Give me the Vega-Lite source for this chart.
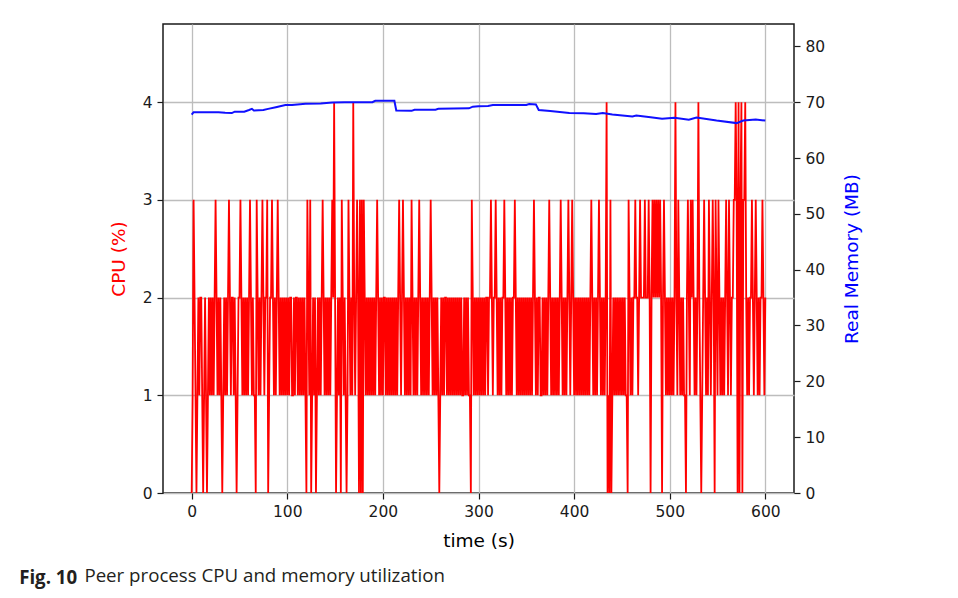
{
"$schema": "https://vega.github.io/schema/vega-lite/v6.json",
"autosize": {"type": "pad"},
"padding": {"left": 18, "top": 23, "right": 5, "bottom": 5},
"background": "white",
"config": {
  "view": {"stroke": "#1a1a1a", "strokeWidth": 1.5},
  "axis": {"domain": false, "tickColor": "#1a1a1a", "tickSize": 6, "tickWidth": 1.2, "labelPadding": 5, "labelFont": "DejaVu Sans", "labelFontSize": 15.5, "labelColor": "#1a1a1a", "titleFont": "DejaVu Sans", "titleFontSize": 18.5, "titleFontWeight": "normal", "gridColor": "#bdbdbd", "gridWidth": 1.3}
},
"title": {"text": "Peer process CPU and memory utilization", "orient": "bottom", "anchor": "start", "frame": "bounds", "font": "Open Sans", "fontSize": 18.7, "fontWeight": "normal", "color": "#231f20", "offset": -21, "dx": 66},
"datasets": {
"cpu": [
{"t":0,"c":0},{"t":1,"c":1},{"t":2,"c":3},{"t":3,"c":2},{"t":4,"c":1},{"t":5,"c":0},{"t":6,"c":1},{"t":7,"c":2},{"t":8,"c":1},{"t":9,"c":2},
{"t":10,"c":2},{"t":11,"c":1},{"t":12,"c":0},{"t":13,"c":1},{"t":14,"c":2},{"t":15,"c":1},{"t":16,"c":0},{"t":17,"c":1},{"t":18,"c":2},{"t":19,"c":1},
{"t":20,"c":2},{"t":21,"c":1},{"t":22,"c":2},{"t":23,"c":1},{"t":24,"c":2},{"t":25,"c":3},{"t":26,"c":2},{"t":27,"c":1},{"t":28,"c":2},{"t":29,"c":1},
{"t":30,"c":2},{"t":31,"c":1},{"t":32,"c":0},{"t":33,"c":1},{"t":34,"c":2},{"t":35,"c":1},{"t":36,"c":2},{"t":37,"c":1},{"t":38,"c":2},{"t":39,"c":3},
{"t":40,"c":2},{"t":41,"c":1},{"t":42,"c":2},{"t":43,"c":2},{"t":44,"c":1},{"t":45,"c":2},{"t":46,"c":1},{"t":47,"c":0},{"t":48,"c":1},{"t":49,"c":2},
{"t":50,"c":2},{"t":51,"c":3},{"t":52,"c":2},{"t":53,"c":1},{"t":54,"c":2},{"t":55,"c":1},{"t":56,"c":2},{"t":57,"c":1},{"t":58,"c":2},{"t":59,"c":1},
{"t":60,"c":2},{"t":61,"c":3},{"t":62,"c":2},{"t":63,"c":1},{"t":64,"c":2},{"t":65,"c":1},{"t":66,"c":1},{"t":67,"c":0},{"t":68,"c":3},{"t":69,"c":2},
{"t":70,"c":1},{"t":71,"c":2},{"t":72,"c":1},{"t":73,"c":2},{"t":74,"c":3},{"t":75,"c":2},{"t":76,"c":1},{"t":77,"c":2},{"t":78,"c":2},{"t":79,"c":3},
{"t":80,"c":0},{"t":81,"c":1},{"t":82,"c":2},{"t":83,"c":2},{"t":84,"c":3},{"t":85,"c":2},{"t":86,"c":1},{"t":87,"c":2},{"t":88,"c":1},{"t":89,"c":2},
{"t":90,"c":3},{"t":91,"c":2},{"t":92,"c":1},{"t":93,"c":2},{"t":94,"c":1},{"t":95,"c":2},{"t":96,"c":1},{"t":97,"c":2},{"t":98,"c":1},{"t":99,"c":2},
{"t":100,"c":1},{"t":101,"c":2},{"t":102,"c":1},{"t":103,"c":2},{"t":104,"c":2},{"t":105,"c":1},{"t":106,"c":1},{"t":107,"c":2},{"t":108,"c":1},{"t":109,"c":2},
{"t":110,"c":2},{"t":111,"c":1},{"t":112,"c":2},{"t":113,"c":1},{"t":114,"c":2},{"t":115,"c":1},{"t":116,"c":2},{"t":117,"c":1},{"t":118,"c":2},{"t":119,"c":1},
{"t":120,"c":0},{"t":121,"c":3},{"t":122,"c":2},{"t":123,"c":1},{"t":124,"c":3},{"t":125,"c":0},{"t":126,"c":1},{"t":127,"c":2},{"t":128,"c":1},{"t":129,"c":2},
{"t":130,"c":0},{"t":131,"c":1},{"t":132,"c":2},{"t":133,"c":1},{"t":134,"c":2},{"t":135,"c":1},{"t":136,"c":2},{"t":137,"c":3},{"t":138,"c":2},{"t":139,"c":1},
{"t":140,"c":2},{"t":141,"c":1},{"t":142,"c":2},{"t":143,"c":1},{"t":144,"c":2},{"t":145,"c":1},{"t":146,"c":2},{"t":147,"c":3},{"t":148,"c":2},{"t":149,"c":4},
{"t":150,"c":2},{"t":151,"c":0},{"t":152,"c":1},{"t":153,"c":2},{"t":154,"c":1},{"t":155,"c":2},{"t":156,"c":0},{"t":157,"c":3},{"t":158,"c":2},{"t":159,"c":1},
{"t":160,"c":2},{"t":161,"c":1},{"t":162,"c":0},{"t":163,"c":1},{"t":164,"c":3},{"t":165,"c":2},{"t":166,"c":1},{"t":167,"c":2},{"t":168,"c":1},{"t":169,"c":4},
{"t":170,"c":2},{"t":171,"c":1},{"t":172,"c":2},{"t":173,"c":3},{"t":174,"c":2},{"t":175,"c":0},{"t":176,"c":3},{"t":177,"c":0},{"t":178,"c":3},{"t":179,"c":0},
{"t":180,"c":3},{"t":181,"c":2},{"t":182,"c":1},{"t":183,"c":2},{"t":184,"c":1},{"t":185,"c":2},{"t":186,"c":1},{"t":187,"c":2},{"t":188,"c":1},{"t":189,"c":2},
{"t":190,"c":1},{"t":191,"c":2},{"t":192,"c":1},{"t":193,"c":2},{"t":194,"c":3},{"t":195,"c":2},{"t":196,"c":1},{"t":197,"c":2},{"t":198,"c":1},{"t":199,"c":2},
{"t":200,"c":1},{"t":201,"c":2},{"t":202,"c":2},{"t":203,"c":1},{"t":204,"c":2},{"t":205,"c":1},{"t":206,"c":2},{"t":207,"c":1},{"t":208,"c":2},{"t":209,"c":1},
{"t":210,"c":2},{"t":211,"c":1},{"t":212,"c":2},{"t":213,"c":1},{"t":214,"c":2},{"t":215,"c":1},{"t":216,"c":2},{"t":217,"c":3},{"t":218,"c":2},{"t":219,"c":1},
{"t":220,"c":2},{"t":221,"c":3},{"t":222,"c":2},{"t":223,"c":1},{"t":224,"c":2},{"t":225,"c":1},{"t":226,"c":2},{"t":227,"c":1},{"t":228,"c":2},{"t":229,"c":1},
{"t":230,"c":3},{"t":231,"c":2},{"t":232,"c":1},{"t":233,"c":2},{"t":234,"c":1},{"t":235,"c":2},{"t":236,"c":1},{"t":237,"c":2},{"t":238,"c":3},{"t":239,"c":2},
{"t":240,"c":1},{"t":241,"c":2},{"t":242,"c":1},{"t":243,"c":2},{"t":244,"c":1},{"t":245,"c":2},{"t":246,"c":1},{"t":247,"c":2},{"t":248,"c":1},{"t":249,"c":2},
{"t":250,"c":3},{"t":251,"c":2},{"t":252,"c":1},{"t":253,"c":2},{"t":254,"c":1},{"t":255,"c":2},{"t":256,"c":1},{"t":257,"c":2},{"t":258,"c":1},{"t":259,"c":0},
{"t":260,"c":1},{"t":261,"c":2},{"t":262,"c":1},{"t":263,"c":2},{"t":264,"c":1},{"t":265,"c":2},{"t":266,"c":2},{"t":267,"c":1},{"t":268,"c":2},{"t":269,"c":1},
{"t":270,"c":2},{"t":271,"c":1},{"t":272,"c":2},{"t":273,"c":1},{"t":274,"c":2},{"t":275,"c":1},{"t":276,"c":2},{"t":277,"c":1},{"t":278,"c":2},{"t":279,"c":1},
{"t":280,"c":2},{"t":281,"c":1},{"t":282,"c":2},{"t":283,"c":1},{"t":284,"c":1},{"t":285,"c":2},{"t":286,"c":1},{"t":287,"c":2},{"t":288,"c":1},{"t":289,"c":2},
{"t":290,"c":1},{"t":291,"c":1},{"t":292,"c":0},{"t":293,"c":3},{"t":294,"c":2},{"t":295,"c":1},{"t":296,"c":2},{"t":297,"c":1},{"t":298,"c":2},{"t":299,"c":1},
{"t":300,"c":2},{"t":301,"c":1},{"t":302,"c":2},{"t":303,"c":1},{"t":304,"c":2},{"t":305,"c":1},{"t":306,"c":2},{"t":307,"c":1},{"t":308,"c":2},{"t":309,"c":2},
{"t":310,"c":1},{"t":311,"c":2},{"t":312,"c":2},{"t":313,"c":3},{"t":314,"c":2},{"t":315,"c":1},{"t":316,"c":2},{"t":317,"c":2},{"t":318,"c":3},{"t":319,"c":2},
{"t":320,"c":1},{"t":321,"c":2},{"t":322,"c":1},{"t":323,"c":2},{"t":324,"c":1},{"t":325,"c":2},{"t":326,"c":2},{"t":327,"c":3},{"t":328,"c":2},{"t":329,"c":1},
{"t":330,"c":2},{"t":331,"c":1},{"t":332,"c":2},{"t":333,"c":1},{"t":334,"c":2},{"t":335,"c":1},{"t":336,"c":2},{"t":337,"c":2},{"t":338,"c":3},{"t":339,"c":2},
{"t":340,"c":1},{"t":341,"c":2},{"t":342,"c":1},{"t":343,"c":2},{"t":344,"c":1},{"t":345,"c":2},{"t":346,"c":1},{"t":347,"c":2},{"t":348,"c":1},{"t":349,"c":2},
{"t":350,"c":1},{"t":351,"c":2},{"t":352,"c":1},{"t":353,"c":2},{"t":354,"c":1},{"t":355,"c":2},{"t":356,"c":1},{"t":357,"c":2},{"t":358,"c":3},{"t":359,"c":2},
{"t":360,"c":1},{"t":361,"c":2},{"t":362,"c":1},{"t":363,"c":2},{"t":364,"c":2},{"t":365,"c":1},{"t":366,"c":1},{"t":367,"c":2},{"t":368,"c":1},{"t":369,"c":2},
{"t":370,"c":1},{"t":371,"c":2},{"t":372,"c":1},{"t":373,"c":2},{"t":374,"c":3},{"t":375,"c":2},{"t":376,"c":1},{"t":377,"c":2},{"t":378,"c":1},{"t":379,"c":2},
{"t":380,"c":1},{"t":381,"c":2},{"t":382,"c":1},{"t":383,"c":2},{"t":384,"c":1},{"t":385,"c":2},{"t":386,"c":3},{"t":387,"c":2},{"t":388,"c":1},{"t":389,"c":2},
{"t":390,"c":1},{"t":391,"c":2},{"t":392,"c":1},{"t":393,"c":2},{"t":394,"c":3},{"t":395,"c":2},{"t":396,"c":1},{"t":397,"c":2},{"t":398,"c":3},{"t":399,"c":2},
{"t":400,"c":1},{"t":401,"c":2},{"t":402,"c":1},{"t":403,"c":2},{"t":404,"c":1},{"t":405,"c":2},{"t":406,"c":1},{"t":407,"c":2},{"t":408,"c":1},{"t":409,"c":2},
{"t":410,"c":1},{"t":411,"c":2},{"t":412,"c":1},{"t":413,"c":2},{"t":414,"c":1},{"t":415,"c":2},{"t":416,"c":1},{"t":417,"c":2},{"t":418,"c":3},{"t":419,"c":2},
{"t":420,"c":1},{"t":421,"c":2},{"t":422,"c":1},{"t":423,"c":2},{"t":424,"c":1},{"t":425,"c":2},{"t":426,"c":3},{"t":427,"c":2},{"t":428,"c":1},{"t":429,"c":2},
{"t":430,"c":1},{"t":431,"c":2},{"t":432,"c":1},{"t":433,"c":2},{"t":434,"c":4},{"t":435,"c":0},{"t":436,"c":1},{"t":437,"c":0},{"t":438,"c":3},{"t":439,"c":0},
{"t":440,"c":1},{"t":441,"c":2},{"t":442,"c":1},{"t":443,"c":2},{"t":444,"c":1},{"t":445,"c":2},{"t":446,"c":1},{"t":447,"c":2},{"t":448,"c":1},{"t":449,"c":2},
{"t":450,"c":1},{"t":451,"c":2},{"t":452,"c":1},{"t":453,"c":2},{"t":454,"c":1},{"t":455,"c":1},{"t":456,"c":0},{"t":457,"c":3},{"t":458,"c":2},{"t":459,"c":1},
{"t":460,"c":2},{"t":461,"c":1},{"t":462,"c":2},{"t":463,"c":2},{"t":464,"c":3},{"t":465,"c":2},{"t":466,"c":2},{"t":467,"c":1},{"t":468,"c":2},{"t":469,"c":3},
{"t":470,"c":2},{"t":471,"c":2},{"t":472,"c":2},{"t":473,"c":2},{"t":474,"c":3},{"t":475,"c":2},{"t":476,"c":2},{"t":477,"c":2},{"t":478,"c":3},{"t":479,"c":2},
{"t":480,"c":0},{"t":481,"c":2},{"t":482,"c":3},{"t":483,"c":2},{"t":484,"c":3},{"t":485,"c":2},{"t":486,"c":3},{"t":487,"c":2},{"t":488,"c":3},{"t":489,"c":2},
{"t":490,"c":3},{"t":491,"c":2},{"t":492,"c":0},{"t":493,"c":2},{"t":494,"c":3},{"t":495,"c":2},{"t":496,"c":1},{"t":497,"c":2},{"t":498,"c":1},{"t":499,"c":2},
{"t":500,"c":1},{"t":501,"c":2},{"t":502,"c":1},{"t":503,"c":2},{"t":504,"c":1},{"t":505,"c":2},{"t":506,"c":4},{"t":507,"c":2},{"t":508,"c":1},{"t":509,"c":3},
{"t":510,"c":2},{"t":511,"c":1},{"t":512,"c":2},{"t":513,"c":1},{"t":514,"c":2},{"t":515,"c":1},{"t":516,"c":1},{"t":517,"c":0},{"t":518,"c":2},{"t":519,"c":3},
{"t":520,"c":2},{"t":521,"c":1},{"t":522,"c":3},{"t":523,"c":2},{"t":524,"c":3},{"t":525,"c":2},{"t":526,"c":1},{"t":527,"c":2},{"t":528,"c":1},{"t":529,"c":2},
{"t":530,"c":4},{"t":531,"c":2},{"t":532,"c":1},{"t":533,"c":0},{"t":534,"c":1},{"t":535,"c":2},{"t":536,"c":3},{"t":537,"c":2},{"t":538,"c":1},{"t":539,"c":2},
{"t":540,"c":1},{"t":541,"c":3},{"t":542,"c":2},{"t":543,"c":1},{"t":544,"c":2},{"t":545,"c":3},{"t":546,"c":2},{"t":547,"c":0},{"t":548,"c":3},{"t":549,"c":2},
{"t":550,"c":1},{"t":551,"c":3},{"t":552,"c":2},{"t":553,"c":1},{"t":554,"c":2},{"t":555,"c":1},{"t":556,"c":2},{"t":557,"c":1},{"t":558,"c":2},{"t":559,"c":3},
{"t":560,"c":2},{"t":561,"c":1},{"t":562,"c":3},{"t":563,"c":2},{"t":564,"c":1},{"t":565,"c":2},{"t":566,"c":2},{"t":567,"c":3},{"t":568,"c":3},{"t":569,"c":4},
{"t":570,"c":3},{"t":571,"c":0},{"t":572,"c":4},{"t":573,"c":0},{"t":574,"c":3},{"t":575,"c":4},{"t":576,"c":0},{"t":577,"c":3},{"t":578,"c":3},{"t":579,"c":4},
{"t":580,"c":2},{"t":581,"c":1},{"t":582,"c":2},{"t":583,"c":1},{"t":584,"c":2},{"t":585,"c":2},{"t":586,"c":3},{"t":587,"c":2},{"t":588,"c":1},{"t":589,"c":2},
{"t":590,"c":3},{"t":591,"c":2},{"t":592,"c":1},{"t":593,"c":2},{"t":594,"c":1},{"t":595,"c":2},{"t":596,"c":2},{"t":597,"c":3},{"t":598,"c":2},{"t":599,"c":1},
{"t":600,"c":2}
],
"mem": [
{"t":0,"m":67.75},{"t":2,"m":68.2},{"t":28,"m":68.2},{"t":35,"m":68.1},{"t":42,"m":68.05},{"t":45,"m":68.3},{"t":55,"m":68.3},{"t":60,"m":68.6},{"t":63,"m":68.8},{"t":65,"m":68.5},{"t":75,"m":68.6},{"t":80,"m":68.8},{"t":88,"m":69.1},{"t":98,"m":69.5},{"t":105,"m":69.5},{"t":119,"m":69.7},{"t":135,"m":69.75},{"t":147,"m":69.96},{"t":160,"m":70.0},{"t":189,"m":70.0},{"t":192,"m":70.25},{"t":212,"m":70.25},{"t":214,"m":68.5},{"t":230,"m":68.45},{"t":233,"m":68.65},{"t":255,"m":68.65},{"t":258,"m":68.8},{"t":290,"m":68.9},{"t":294,"m":69.2},{"t":300,"m":69.25},{"t":310,"m":69.3},{"t":315,"m":69.5},{"t":350,"m":69.5},{"t":353,"m":69.65},{"t":360,"m":69.6},{"t":363,"m":68.6},{"t":375,"m":68.4},{"t":395,"m":68.05},{"t":410,"m":68.0},{"t":423,"m":67.9},{"t":430,"m":68.05},{"t":440,"m":67.8},{"t":461,"m":67.45},{"t":465,"m":67.6},{"t":480,"m":67.3},{"t":492,"m":67.05},{"t":505,"m":67.2},{"t":520,"m":66.85},{"t":528,"m":67.25},{"t":549,"m":66.7},{"t":570,"m":66.25},{"t":577,"m":66.7},{"t":590,"m":66.9},{"t":600,"m":66.7}
]
},
"vconcat": [
{
"width": 631,
"height": 469,
"title": {"text": "Fig. 10", "orient": "bottom", "anchor": "start", "frame": "bounds", "font": "Open Sans", "fontSize": 18.7, "fontWeight": "bold", "color": "#231f20", "offset": 19, "dx": -90},
"layer": [
{"data": {"name": "cpu"},
 "mark": {"type": "line", "color": "#ff0000", "strokeWidth": 1.8},
 "encoding": {
  "x": {"field": "t", "type": "quantitative", "scale": {"domain": [-30, 630], "nice": false, "zero": false}, "axis": {"values": [0, 100, 200, 300, 400, 500, 600], "title": "time (s)", "grid": true, "titlePadding": 12}},
  "y": {"field": "c", "type": "quantitative", "scale": {"domain": [0, 4.8], "nice": false}, "axis": {"orient": "left", "values": [0, 1, 2, 3, 4], "title": "CPU (%)", "titleColor": "#ff0000", "grid": true, "titlePadding": 14}}
 }},
{"data": {"name": "mem"},
 "mark": {"type": "line", "color": "#1010ff", "strokeWidth": 2},
 "encoding": {
  "x": {"field": "t", "type": "quantitative", "scale": {"domain": [-30, 630], "nice": false, "zero": false}, "axis": {"values": [0, 100, 200, 300, 400, 500, 600], "title": "time (s)", "grid": true, "titlePadding": 12}},
  "y": {"field": "m", "type": "quantitative", "scale": {"domain": [0, 84], "nice": false}, "axis": {"orient": "right", "values": [0, 10, 20, 30, 40, 50, 60, 70, 80], "title": "Real Memory (MB)", "titleColor": "#0000ff", "grid": false, "titleAngle": 270, "titleBaseline": "top", "titlePadding": 18}}
 }}
],
"resolve": {"scale": {"y": "independent"}}
}
]
}
